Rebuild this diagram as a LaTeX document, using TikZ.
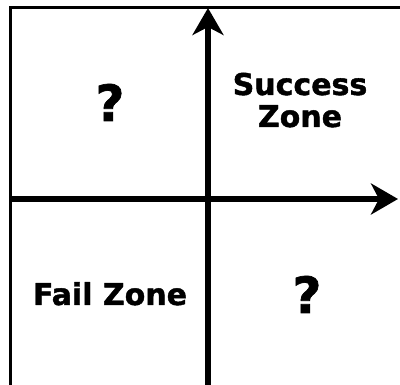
\documentclass[tikz,border=0pt]{standalone}
\usepackage{fontspec}
\setmainfont{DejaVu Sans}
\newfontfamily\heavyfont{DejaVu Sans Bold}[FakeBold=1.4]
\usetikzlibrary{arrows.meta}
\begin{document}
\begin{tikzpicture}[x=1pt,y=-1pt,
  frame/.style={line width=3pt,black},
  axis/.style={line width=5.5pt,black,-{Stealth[length=27pt,width=31pt,inset=8pt]}},
  zone/.style={font=\fontsize{30}{32}\selectfont\heavyfont,anchor=base,inner sep=0pt},
  qmark/.style={font=\fontsize{50}{50}\selectfont\heavyfont,anchor=base,inner sep=0pt}]
\useasboundingbox (0,0) rectangle (400,385);
\coordinate (tl) at (10,8);
\coordinate (tr) at (400,8);
\coordinate (bl) at (10,385);
\coordinate (xs) at (10,199);
\coordinate (xe) at (398,199);
\coordinate (ys) at (208,385);
\coordinate (ye) at (208,8);
\draw[frame] (bl) -- (tl) -- (tr);
\draw[axis] (xs) -- (xe);
\draw[axis] (ys) -- (ye);
\node[qmark] (q1) at (110,121) {?};
\node[qmark] (q2) at (307,313) {?};
\node[zone] (s1) at (300,95) {Success};
\node[zone] (s2) at (300,127) {Zone};
\node[zone] (f) at (110,305) {Fail Zone};
\end{tikzpicture}
\end{document}
